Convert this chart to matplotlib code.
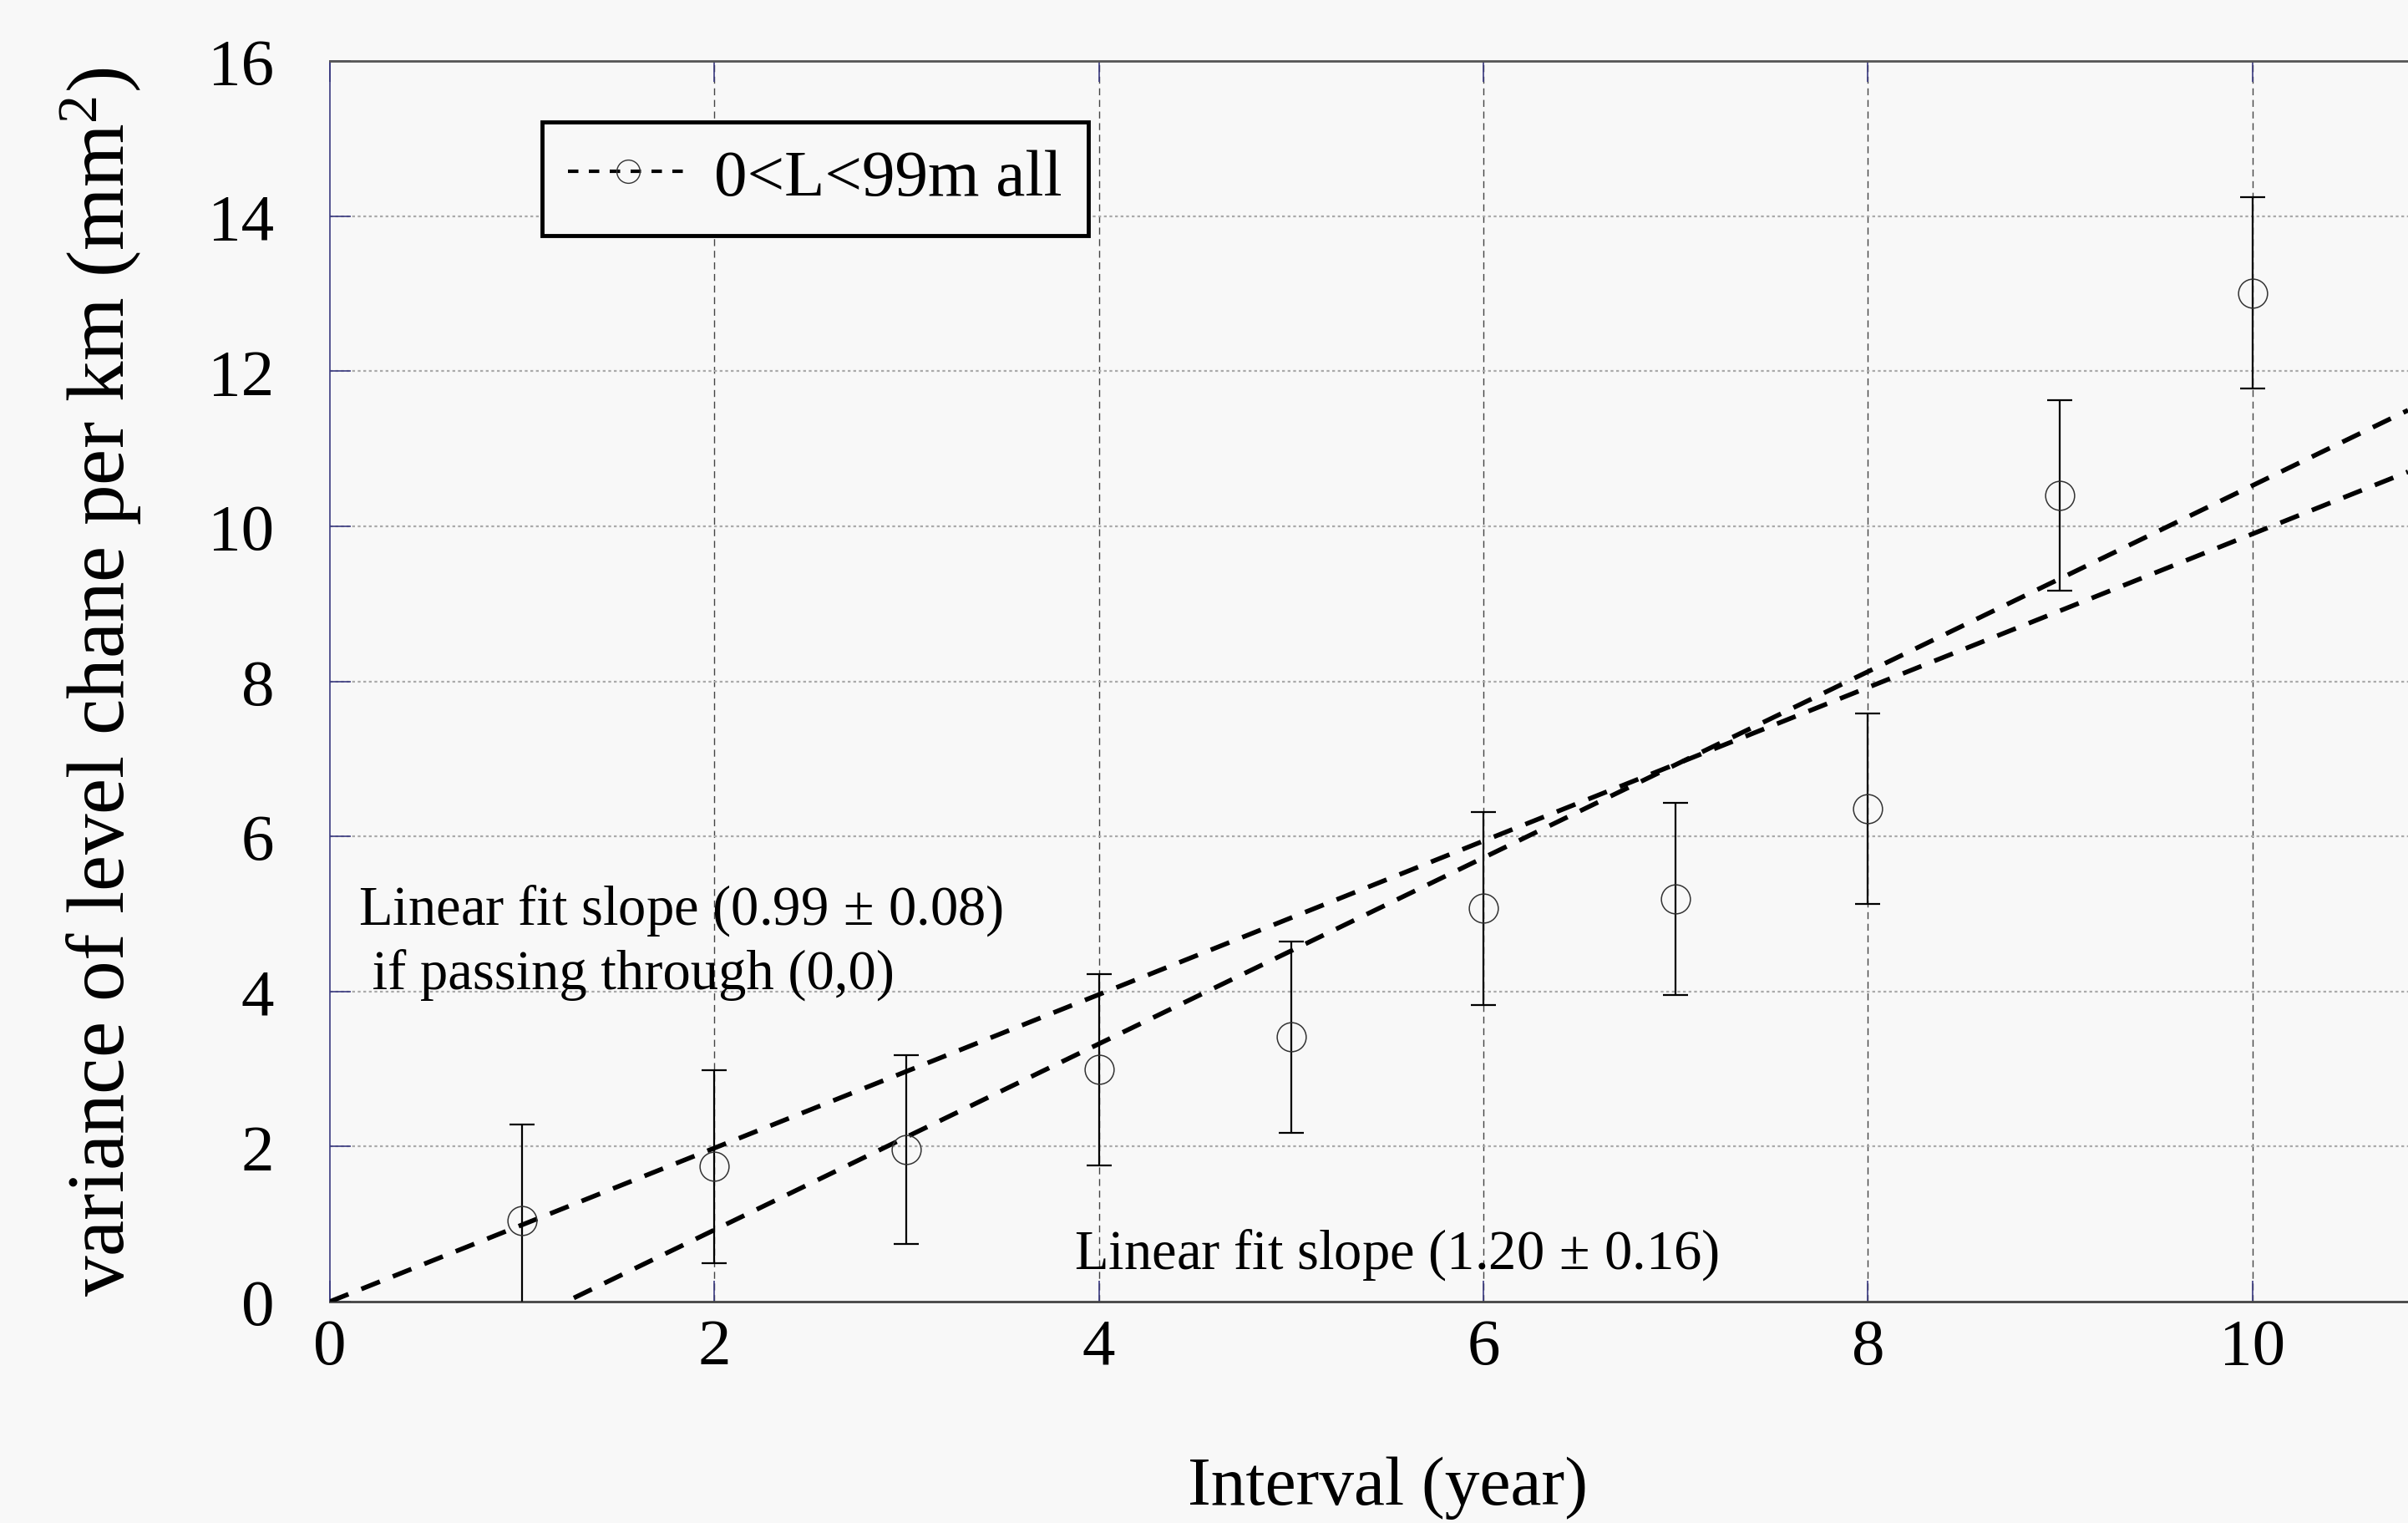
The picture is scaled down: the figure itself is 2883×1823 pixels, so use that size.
import numpy as np
import matplotlib.pyplot as plt
from matplotlib.lines import Line2D

# ====== DATA ======
interval = [1, 2, 3, 4, 5, 6, 7, 8, 9, 10]
variance = [1.05, 1.74, 1.96, 2.99, 3.41, 5.07, 5.19, 6.36, 10.40, 13.01]
err      = [1.23, 1.24, 1.22, 1.23, 1.23, 1.24, 1.24, 1.23, 1.23, 1.23]

# linear fits: (slope, intercept)
fit_origin = (0.99, 0.0)
fit_free   = (1.20, -1.476)

XMAX = 10.81
YMAX = 16

legend_label = "0<L<99m all"
ylabel = "variance of level chane per km (mm$^2$)"
xlabel = "Interval (year)"
txt_fit1 = "Linear fit slope (0.99$\\,\\pm\\,$0.08)\n if passing through (0,0)"
txt_fit2 = "Linear fit slope (1.20$\\,\\pm\\,$0.16)"

# ====== STYLE ======
plt.rcParams["font.family"] = ["Liberation Serif", "DejaVu Serif"]
plt.rcParams["mathtext.fontset"] = "custom"
plt.rcParams["mathtext.rm"] = "Liberation Serif"
plt.rcParams["mathtext.it"] = "Liberation Serif:italic"
plt.rcParams["mathtext.default"] = "regular"

BG = "#f8f8f8"
NAVY = "#3a3a80"

fig = plt.figure(figsize=(28.83, 18.24), dpi=100, facecolor=BG)
ax = fig.add_axes([0.137, 0.1453, 0.863, 0.8141], facecolor=BG)

# grid
for xv in range(2, 11, 2):
    ax.axvline(xv, color="#444444", lw=1.0, ls=(0, (6, 4)), zorder=1)
for yv in range(2, 16, 2):
    ax.axhline(yv, color="#aaaaaa", lw=1.6, ls=(0, (1.5, 1.5)), zorder=1)

# fit lines
xf = np.array([0, XMAX])
for slope, icpt in (fit_origin, fit_free):
    ax.plot(xf, slope * xf + icpt, color="black", lw=4.0,
            ls=(0, (4.3, 3)), zorder=3)

# data with error bars
ax.errorbar(interval, variance, yerr=err, fmt="none", ecolor="black",
            elinewidth=1.6, capsize=11, capthick=1.6, zorder=4)
ax.plot(interval, variance, ls="none", marker="o", ms=25, mfc="none",
        mec="#333333", mew=1.1, zorder=5)

ax.set_xlim(0, XMAX)
ax.set_ylim(0, YMAX)
ax.set_xticks(range(0, 11, 2))
ax.set_yticks(range(0, 17, 2))

ax.tick_params(axis="both", direction="in", length=18, width=1.2,
               color=NAVY, labelsize=57)
ax.tick_params(axis="x", top=True, pad=14)
ax.tick_params(axis="y", pad=48)

ax.spines["right"].set_visible(False)
ax.spines["top"].set_color("#555555")
ax.spines["top"].set_linewidth(2)
ax.spines["bottom"].set_color("#444444")
ax.spines["bottom"].set_linewidth(2)
ax.spines["left"].set_color(NAVY)
ax.spines["left"].set_linewidth(1.2)

ax.set_xlabel(xlabel, fontsize=60)
ax.xaxis.set_label_coords(0.509, -0.124)
ax.set_ylabel(ylabel, fontsize=70)
ax.yaxis.set_label_coords(-0.09, 0.5)

# annotations
ax.text(0.15, 4.65, txt_fit1, fontsize=48, ha="left", va="center",
        linespacing=1.25, zorder=6)
ax.text(3.87, 0.61, txt_fit2, fontsize=48, ha="left", va="center", zorder=6)

# legend
h = Line2D([], [], color="black", lw=3, ls=(0, (3, 3)), marker="o",
           ms=20, mfc="none", mec="#333333", mew=1.0)
leg = ax.legend([h], [legend_label], loc="upper left",
                bbox_to_anchor=(0.102, 0.951), borderaxespad=0,
                fontsize=57, frameon=True, fancybox=False,
                handlelength=1.8, handletextpad=0.4, borderpad=0.4)
leg.get_frame().set_edgecolor("black")
leg.get_frame().set_linewidth(3.5)
leg.get_frame().set_facecolor(BG)
leg.get_frame().set_alpha(1)
leg.set_zorder(10)

fig.savefig("out.png", dpi=100, facecolor=BG)
